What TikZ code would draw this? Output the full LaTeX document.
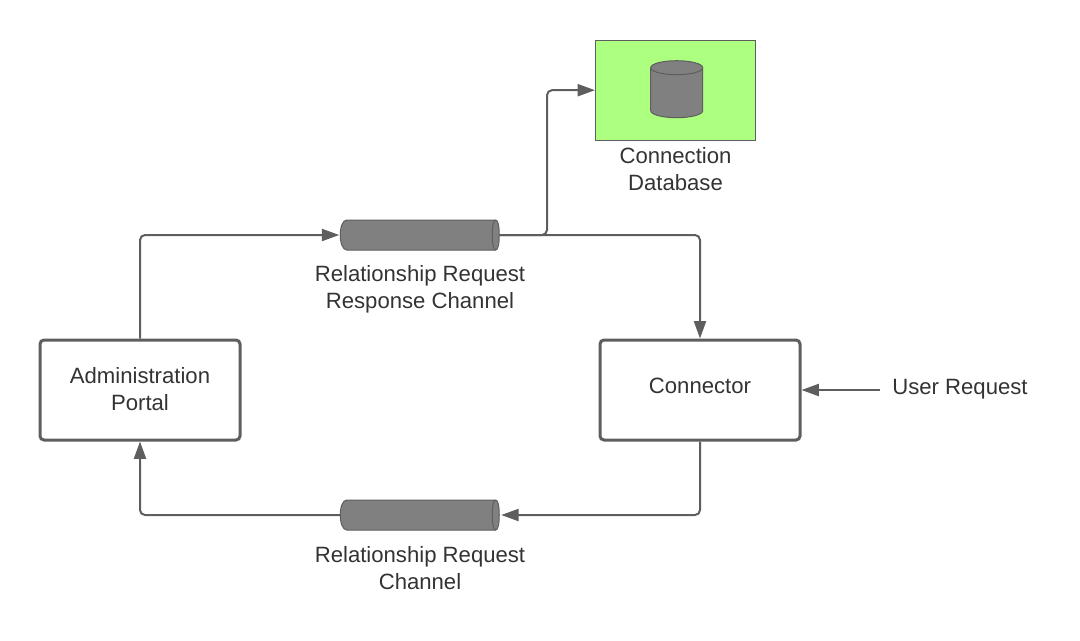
\documentclass[tikz,border=0pt]{standalone}
\usepackage{fontspec}
\setmainfont{Liberation Sans}
\usetikzlibrary{arrows.meta}
\definecolor{linegray}{HTML}{5E5E5E}
\definecolor{pipegray}{HTML}{808080}
\definecolor{textgray}{HTML}{333333}
\definecolor{dbgreen}{HTML}{ADFF7F}
\tikzset{
  procbox/.style={draw=linegray,line width=2.25pt,rounded corners=3pt,fill=white,minimum width=150pt,minimum height=75pt,align=center,text=textgray,font=\fontsize{16.6}{20.25}\selectfont},
  pipeslot/.style={minimum width=119.25pt,minimum height=22.5pt,inner sep=0pt,outer sep=0pt},
  shapeedge/.style={draw=linegray,line width=0.75pt,fill=pipegray},
  lbl/.style={align=center,text=textgray,font=\fontsize{16.6}{20.25}\selectfont},
  conn/.style={draw=linegray,line width=1.5pt,rounded corners=3.75pt,-{Triangle[length=13pt,width=9pt]}},
}
\begin{document}
\begin{tikzpicture}[x=0.75pt,y=0.75pt,yscale=-1,xscale=1]
\useasboundingbox (0,0) rectangle (1080,640);

%Boxes
\node [procbox] (portal) at (140,390) {Administration\\Portal\rule[-2.25pt]{0pt}{0pt}};
\node [procbox,text height=11.5pt,text depth=6pt] (connector) at (700,390) {Connector};
\node [draw=linegray,line width=0.75pt,fill=dbgreen,minimum width=120pt,minimum height=75pt] (dbbox) at (675.5,90.2) {};
\coordinate (dbcyl) at (676.7,89.2);

%Database cylinder
\draw [shapeedge,shift={(dbcyl)}] (-26,-21.5) -- (-26,21.5) .. controls (-26,25.4) and (-14.4,28.5) .. (0,28.5) .. controls (14.4,28.5) and (26,25.4) .. (26,21.5) -- (26,-21.5) .. controls (26,-25.4) and (14.4,-28.5) .. (0,-28.5) .. controls (-14.4,-28.5) and (-26,-25.4) .. (-26,-21.5) -- cycle;
\draw [shapeedge,shift={(dbcyl)}] (-26,-21.5) .. controls (-26,-17.6) and (-14.4,-14.5) .. (0,-14.5) .. controls (14.4,-14.5) and (26,-17.6) .. (26,-21.5);

%Pipes
\node [pipeslot] (resppipe) at (419.75,235) {};
\node [pipeslot] (reqpipe) at (419.75,515) {};
\foreach \pipename in {resppipe,reqpipe}{
  \draw [shapeedge,shift={(\pipename.center)}] (-73,-15) .. controls (-77,-15) and (-79.5,-8) .. (-79.5,0) .. controls (-79.5,8) and (-77,15) .. (-73,15) -- (76,15) .. controls (78.5,15) and (79.5,8) .. (79.5,0) .. controls (79.5,-8) and (78.5,-15) .. (76,-15) -- cycle;
  \draw [shapeedge,fill=none,shift={(\pipename.center)}] (76,-15) .. controls (73.5,-15) and (72.5,-8) .. (72.5,0) .. controls (72.5,8) and (73.5,15) .. (76,15);
}

%Free end
\coordinate (userend) at (880,390);

%Connectors
\draw [conn] (portal.north) |- ([xshift=-0.75pt]resppipe.west);
\draw [conn] (resppipe.east) -| (connector.north);
\draw [conn] (resppipe.east) -- (547,235) |- (dbbox.west);
\draw [conn] (connector.south) |- ([xshift=1.5pt]reqpipe.east);
\draw [conn] (reqpipe.west) -| (portal.south);
\draw [conn] (userend) -- (connector.east |- userend);

% Text Node
\draw (960,389.5) node [lbl] (userlbl) {User Request};
% Text Node
\draw (675.5,168.7) node [lbl] (dblbl) {Connection\\Database};
% Text Node
\draw (420,289.5) node [lbl] (resplbl) {Relationship Request\\Response Channel};
% Text Node
\draw (420,568.5) node [lbl] (reqlbl) {Relationship Request\\Channel};

\end{tikzpicture}
\end{document}
